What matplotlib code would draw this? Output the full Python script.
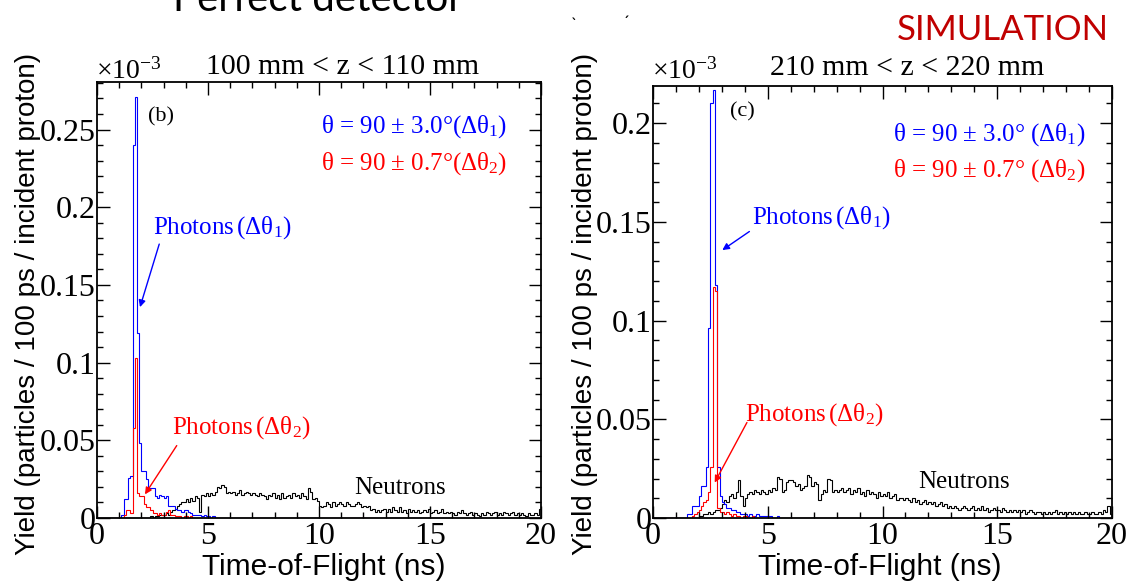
import numpy as np
import matplotlib.pyplot as plt
from matplotlib.ticker import MultipleLocator, FuncFormatter

plt.rcParams['mathtext.fontset'] = 'custom'
plt.rcParams['mathtext.rm'] = 'Liberation Serif'
plt.rcParams['mathtext.it'] = 'Liberation Serif:italic'
plt.rcParams['mathtext.default'] = 'rm'

SERIF = 'Liberation Serif'
SANS = 'Liberation Sans'
W, H = 1131, 583

# 100 ps bins from 0 to 20 ns
tof_edges = np.linspace(0.0, 20.0, 201)

# yields are in units of 1e-3 particles / 100 ps / incident proton
# (b) 100 mm < z < 110 mm, values from 0 ns onward (rest of the range is empty)
photons_wide_b = [
    0, 0, 0, 0, 0, 0, 0, 0, 0, 0,
    0, 0.002, 0.012, 0.012, 0.026, 0.027, 0.240, 0.271, 0.119, 0.048,
    0.030, 0.030, 0.025, 0.019, 0.019, 0.019, 0.014, 0.013, 0.015, 0.014,
    0.013, 0.014, 0.008, 0.008, 0.008, 0.006, 0.005, 0.005, 0.004, 0.005,
    0.005, 0.004, 0.003, 0.002, 0.002, 0.002, 0.002, 0.001, 0.002, 0.001,
    0.001, 0, 0.001,
]
photons_narrow_b = [
    0, 0, 0, 0, 0, 0, 0, 0, 0, 0,
    0, 0, 0.002, 0.005, 0.005, 0.003, 0.058, 0.103, 0.016, 0.014,
    0.014, 0.009, 0.007, 0.007, 0.005, 0.003, 0.003, 0.002, 0.003, 0.002,
    0.002, 0.004, 0.005, 0.002, 0.002, 0.001, 0.001, 0.001, 0, 0.001,
    0.001, 0, 0.001,
]
neutrons_b = [
    0, 0, 0, 0, 0, 0, 0, 0, 0, 0,
    0, 0, 0, 0, 0, 0, 0, 0, 0, 0,
    0, 0, 0, 0, 0.001, 0, 0.001, 0.001, 0.002, 0.002,
    0.002, 0.003, 0.002, 0.004, 0.005, 0.006, 0.008, 0.009, 0.010, 0.010,
    0.012, 0.010, 0.013, 0.011, 0.014, 0.013, 0.004, 0.015, 0.014, 0.016,
    0.014, 0.016, 0.015, 0.017, 0.020, 0.019, 0.021, 0.020, 0.016, 0.017,
    0.016, 0.017, 0.015, 0.016, 0.018, 0.015, 0.016, 0.017, 0.016, 0.015,
    0.016, 0.015, 0.014, 0.016, 0.015, 0.014, 0.012, 0.015, 0.014, 0.016,
    0.013, 0.015, 0.012, 0.016, 0.013, 0.014, 0.015, 0.013, 0.016, 0.014,
    0.015, 0.013, 0.016, 0.014, 0.012, 0.019, 0.017, 0.012, 0.013, 0.011,
    0.008, 0.007, 0.008, 0.010, 0.009, 0.007, 0.010, 0.008, 0.009, 0.010,
    0.009, 0.008, 0.010, 0.009, 0.008, 0.008, 0.009, 0.010, 0.009, 0.007,
    0.008, 0.007, 0.008, 0.005, 0.006, 0.004, 0.005, 0.004, 0.005, 0.006,
    0.004, 0.006, 0.004, 0.007, 0.005, 0.004, 0.007, 0.004, 0.005, 0.003,
    0.006, 0.004, 0.005, 0.004, 0.005, 0.003, 0.004, 0.005, 0.004, 0.006,
    0.003, 0.004, 0.005, 0.003, 0.004, 0.006, 0.003, 0.004, 0.003, 0.004,
    0.003, 0.002, 0.004, 0.003, 0.005, 0.003, 0.002, 0.003, 0.004, 0.002,
    0.003, 0.002, 0.001, 0.003, 0.002, 0.004, 0.003, 0.002, 0.003, 0.004,
    0.002, 0.003, 0.002, 0.004, 0.003, 0.002, 0.003, 0.004, 0.002, 0.003,
    0.002, 0.003, 0.002, 0.001, 0.003, 0.002, 0.002, 0.003, 0.002, 0.006,
]

# (c) 210 mm < z < 220 mm
photons_wide_c = [
    0, 0, 0, 0, 0, 0, 0, 0, 0, 0,
    0, 0, 0, 0, 0, 0.002, 0.002, 0.006, 0.006, 0.006,
    0.011, 0.016, 0.016, 0.026, 0.096, 0.210, 0.217, 0.118, 0.026, 0.011,
    0.008, 0.007, 0.005, 0.005, 0.004, 0.004, 0.003, 0.003, 0.002, 0.002,
    0.002, 0.001, 0.002, 0.001, 0.001, 0.002, 0.001, 0.001, 0.001, 0.001,
    0.001, 0.001, 0, 0, 0.001,
]
photons_narrow_c = [
    0, 0, 0, 0, 0, 0, 0, 0, 0, 0,
    0, 0, 0, 0, 0, 0, 0, 0.001, 0.002, 0.003,
    0.004, 0.006, 0.008, 0.009, 0.013, 0.026, 0.117, 0.115, 0.005, 0.003,
    0.003, 0.002, 0.003, 0.002, 0.001, 0.002, 0.001, 0.001, 0, 0.001,
    0.001, 0, 0, 0.001,
]
neutrons_c = [
    0, 0, 0, 0, 0, 0, 0, 0, 0, 0,
    0, 0, 0, 0, 0, 0, 0, 0, 0, 0,
    0.001, 0.001, 0.002, 0.002, 0.003, 0.002, 0.003, 0.004, 0.004, 0.005,
    0.007, 0.009, 0.008, 0.011, 0.012, 0.010, 0.013, 0.019, 0.011, 0.006,
    0.010, 0.012, 0.013, 0.012, 0.014, 0.013, 0.012, 0.014, 0.013, 0.012,
    0.014, 0.013, 0.015, 0.014, 0.021, 0.020, 0.013, 0.014, 0.018, 0.019,
    0.019, 0.018, 0.016, 0.017, 0.014, 0.015, 0.016, 0.022, 0.021, 0.016,
    0.018, 0.017, 0.009, 0.012, 0.014, 0.013, 0.020, 0.019, 0.013, 0.014,
    0.013, 0.014, 0.015, 0.013, 0.014, 0.015, 0.012, 0.014, 0.013, 0.015,
    0.012, 0.013, 0.011, 0.014, 0.012, 0.013, 0.012, 0.010, 0.013, 0.011,
    0.012, 0.011, 0.013, 0.010, 0.011, 0.012, 0.009, 0.010, 0.010, 0.009,
    0.010, 0.009, 0.008, 0.010, 0.008, 0.009, 0.007, 0.008, 0.009, 0.007,
    0.008, 0.007, 0.008, 0.006, 0.007, 0.008, 0.006, 0.007, 0.005, 0.006,
    0.005, 0.006, 0.005, 0.004, 0.005, 0.006, 0.005, 0.004, 0.005, 0.006,
    0.004, 0.005, 0.004, 0.006, 0.004, 0.005, 0.003, 0.004, 0.005, 0.004,
    0.004, 0.003, 0.005, 0.004, 0.003, 0.004, 0.003, 0.004, 0.003, 0.004,
    0.003, 0.004, 0.002, 0.003, 0.004, 0.003, 0.002, 0.003, 0.003, 0.002,
    0.003, 0.002, 0.003, 0.002, 0.003, 0.004, 0.002, 0.003, 0.002, 0.003,
    0.002, 0.003, 0.002, 0.003, 0.002, 0.003, 0.002, 0.002, 0.003, 0.002,
    0.002, 0.003, 0.002, 0.002, 0.003, 0.002, 0.004, 0.003, 0.006, 0.002,
]

panel_titles = ['100 mm < z < 110 mm', '210 mm < z < 220 mm']
panel_tags = ['(b)', '(c)']
legend_wide = [r'$\theta$ = 90 $\pm$ 3.0$\degree$($\Delta\theta_{1}$)',
               r'$\theta$ = 90 $\pm$ 3.0$\degree$ ($\Delta\theta_{1}$)']
legend_narrow = [r'$\theta$ = 90 $\pm$ 0.7$\degree$($\Delta\theta_{2}$)',
                 r'$\theta$ = 90 $\pm$ 0.7$\degree$ ($\Delta\theta_{2}$)']
ylabel = 'Yield (particles / 100 ps / incident proton)'
xlabel = 'Time-of-Flight (ns)'


def binned(vals):
    out = np.zeros(len(tof_edges) - 1)
    out[:len(vals)] = vals
    return out


def fpos(x, y):
    # pixel position -> figure fraction
    return x / W, 1 - y / H


fig = plt.figure(figsize=(W / 100, H / 100), dpi=100)
fig.patch.set_facecolor('white')

ax_b = fig.add_axes([97 / W, 1 - 518 / H, 444 / W, 436 / H])
ax_c = fig.add_axes([653 / W, 1 - 518 / H, 459 / W, 432 / H])

panels = [
    (ax_b, neutrons_b, photons_wide_b, photons_narrow_b, 0.2806),
    (ax_c, neutrons_c, photons_wide_c, photons_narrow_c, 0.2188),
]
for ax, neu, wide, narrow, ytop in panels:
    ax.stairs(binned(neu), tof_edges, color='black', lw=0.8)
    ax.stairs(binned(wide), tof_edges, color='blue', lw=0.8)
    ax.stairs(binned(narrow), tof_edges, color='red', lw=0.8)
    ax.set_xlim(0, 20)
    ax.set_ylim(0, ytop)
    ax.xaxis.set_major_locator(MultipleLocator(5))
    ax.xaxis.set_minor_locator(MultipleLocator(1))
    ax.yaxis.set_major_locator(MultipleLocator(0.05))
    ax.yaxis.set_minor_locator(MultipleLocator(0.01))
    ax.yaxis.set_major_formatter(FuncFormatter(lambda v, p: '%g' % round(v, 3)))
    ax.tick_params(which='both', direction='in', top=True, right=True, width=1.0)
    ax.tick_params(which='major', length=9, labelsize=23)
    ax.tick_params(which='minor', length=4.5)
    ax.tick_params(axis='x', pad=3)
    ax.tick_params(axis='y', pad=1)
    for lab in ax.get_xticklabels() + ax.get_yticklabels():
        lab.set_fontfamily(SERIF)
    for s in ax.spines.values():
        s.set_linewidth(1.3)

serif_kw = dict(fontfamily=SERIF)
leg_fs = 18
lab_fs = 18

# panel (b) annotations
ax_b.text(2.30, 0.258, panel_tags[0], fontsize=16, va='center', **serif_kw)
ax_b.text(10.1, 0.2516, legend_wide[0], color='blue', fontsize=leg_fs, va='center', **serif_kw)
ax_b.text(10.1, 0.2284, legend_narrow[0], color='red', fontsize=leg_fs, va='center', **serif_kw)
ax_b.text(2.52, 0.1866, r'Photons$\,$($\Delta\theta_{1}$)', color='blue', fontsize=lab_fs,
          va='center', **serif_kw)
ax_b.annotate('', xy=(1.9, 0.134), xytext=(2.84, 0.178),
              arrowprops=dict(arrowstyle='-|>', color='blue', lw=1.0, mutation_scale=10))
ax_b.text(3.38, 0.058, r'Photons$\,$($\Delta\theta_{2}$)', color='red', fontsize=lab_fs,
          va='center', **serif_kw)
ax_b.annotate('', xy=(2.09, 0.0137), xytext=(3.66, 0.0481),
              arrowprops=dict(arrowstyle='-|>', color='red', lw=1.0, mutation_scale=10))
ax_b.text(11.58, 0.0193, 'Neutrons', fontsize=lab_fs, va='center', **serif_kw)

# panel (c) annotations
ax_c.text(3.36, 0.2057, panel_tags[1], fontsize=16, va='center', **serif_kw)
ax_c.text(10.46, 0.194, legend_wide[1], color='blue', fontsize=leg_fs, va='center', **serif_kw)
ax_c.text(10.46, 0.1758, legend_narrow[1], color='red', fontsize=leg_fs, va='center', **serif_kw)
ax_c.text(4.31, 0.152, r'Photons$\,$($\Delta\theta_{1}$)', color='blue', fontsize=lab_fs,
          va='center', **serif_kw)
ax_c.annotate('', xy=(2.92, 0.1349), xytext=(4.30, 0.1459),
              arrowprops=dict(arrowstyle='-|>', color='blue', lw=1.0, mutation_scale=10))
ax_c.text(4.01, 0.0522, r'Photons$\,$($\Delta\theta_{2}$)', color='red', fontsize=lab_fs,
          va='center', **serif_kw)
ax_c.annotate('', xy=(2.63, 0.0167), xytext=(4.15, 0.0496),
              arrowprops=dict(arrowstyle='-|>', color='red', lw=1.0, mutation_scale=10))
ax_c.text(11.55, 0.0182, 'Neutrons', fontsize=lab_fs, va='center', **serif_kw)

# titles and exponent labels above each frame
fig.text(*fpos(343, 67), panel_titles[0], fontsize=21.5, ha='center', va='center', **serif_kw)
fig.text(*fpos(907, 68), panel_titles[1], fontsize=21.5, ha='center', va='center', **serif_kw)
fig.text(*fpos(96, 79), r'$\times$10$^{\mathregular{-3}}$', fontsize=20, va='baseline', **serif_kw)
fig.text(*fpos(652, 79), r'$\times$10$^{\mathregular{-3}}$', fontsize=20, va='baseline', **serif_kw)

# axis titles
fig.text(*fpos(28, 304), ylabel, fontsize=20, rotation=90, ha='center', va='center',
         fontfamily=SANS)
fig.text(*fpos(585, 304), ylabel, fontsize=20, rotation=90, ha='center', va='center',
         fontfamily=SANS)
fig.text(*fpos(324, 567), xlabel, fontsize=21.5, ha='center', va='center', fontfamily=SANS)
fig.text(*fpos(880, 567), xlabel, fontsize=21.5, ha='center', va='center', fontfamily=SANS)

# slide header pieces (cut off at the top edge)
fig.text(*fpos(173, 11), 'Perfect detector', fontsize=29, va='baseline', fontfamily='Lato')
fig.text(*fpos(108, 4), '\u2022', fontsize=29, ha='center', va='baseline', fontfamily='Lato')
fig.text(*fpos(574, 30), '`', fontsize=12, ha='center', va='baseline', fontfamily='Lato')
fig.text(*fpos(626, 28), '\u00b4', fontsize=12, ha='center', va='baseline', fontfamily='Lato')
fig.text(*fpos(1109, 40), 'SIMULATION', fontsize=25, ha='right', va='baseline',
         color='#c00000', fontfamily='Lato')

fig.savefig('out.png', dpi=100)
